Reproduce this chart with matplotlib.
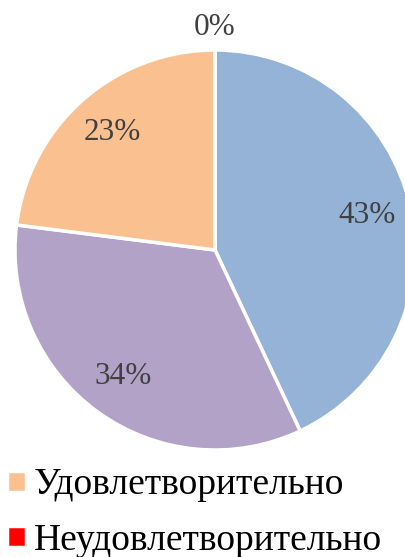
import numpy as np
import matplotlib as mpl
mpl.use("Agg")
import matplotlib.pyplot as plt

# data
categories = ["Отлично", "Хорошо", "Удовлетворительно", "Неудовлетворительно"]
shares = [43, 34, 23, 0]
colours = ["#95b3d7", "#b2a2c7", "#fac090", "#ff0000"]
legend_shown = ["Удовлетворительно", "Неудовлетворительно"]

mpl.rcParams.update({
	"font.family": ["Liberation Serif", "DejaVu Serif"],
})

fig = plt.figure(figsize=(4.06, 5.57), dpi=100)
# pie box in pixels: x 15..415, y 50..450 from the top
ax = fig.add_axes([15/406, (557-450)/557, 400/406, 400/557])
ax.axis("off")

wedges, _ = ax.pie(shares, colors=colours, startangle=90, counterclock=False,
	radius=1.0, center=(0, 0), frame=False,
	wedgeprops={"edgecolor": "white", "linewidth": 2.5})
ax.set_xlim(-1, 1)
ax.set_ylim(-1, 1)
ax.set_aspect("equal")

for w, v in zip(wedges, shares):
	mid = np.deg2rad((w.theta1 + w.theta2) / 2)
	r = 0.78 if v > 0 else 1.11
	ax.text(r*np.cos(mid), r*np.sin(mid), "%d%%" % v, ha="center", va="center",
		fontsize=22.5, color="#404040", clip_on=False)

handles = [wedges[categories.index(c)] for c in legend_shown]
fig.legend(handles, legend_shown, loc="upper left", bbox_to_anchor=(7/406, (557-468)/557),
	frameon=False, fontsize=27, handlelength=0.5, handleheight=0.5,
	handletextpad=0.22, labelspacing=0.55, borderaxespad=0, borderpad=0)

fig.savefig("out.png", dpi=100)
